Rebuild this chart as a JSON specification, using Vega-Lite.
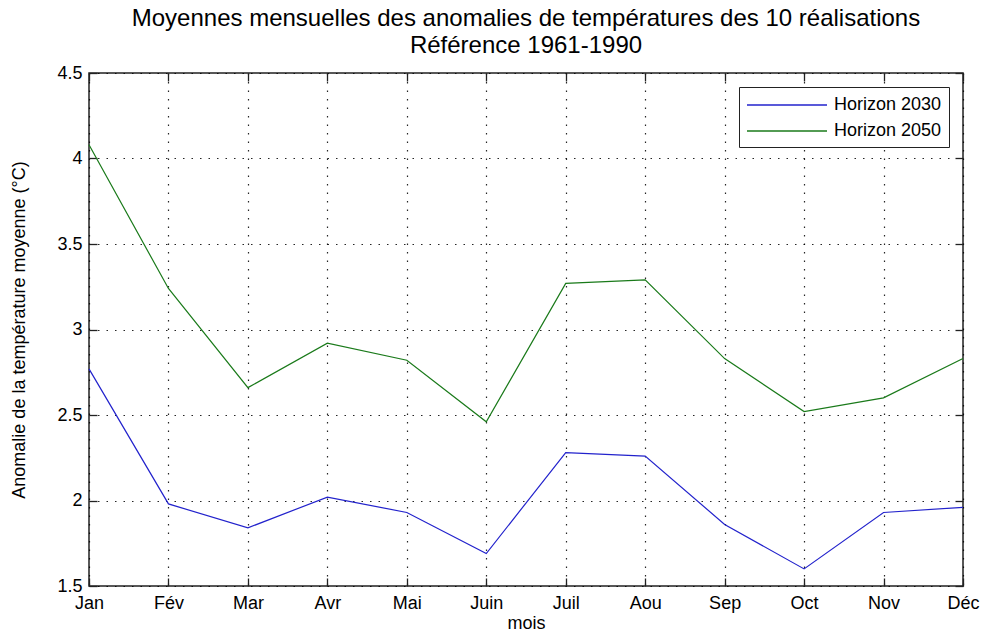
{
  "$schema": "https://vega.github.io/schema/vega-lite/v6.json",
  "width": 874,
  "height": 513,
  "autosize": "none",
  "padding": {"left": 89, "top": 73, "right": 30, "bottom": 49},
  "background": "white",
  "config": {
    "font": "Liberation Sans",
    "view": {"stroke": "#222222", "strokeWidth": 1.5},
    "axis": {
      "labelFont": "Liberation Sans",
      "titleFont": "Liberation Sans",
      "labelFontSize": 18,
      "titleFontSize": 18,
      "titleFontWeight": "normal",
      "labelColor": "black",
      "titleColor": "black",
      "tickColor": "#222222",
      "tickWidth": 1.3,
      "domain": false,
      "gridColor": "black",
      "gridDash": [1.5, 7],
      "gridOpacity": 0.85,
      "gridWidth": 1.2
    }
  },
  "title": {
    "text": ["Moyennes mensuelles des anomalies de températures des 10 réalisations", "Référence 1961-1990"],
    "font": "Liberation Sans",
    "fontSize": 24,
    "fontWeight": "normal",
    "color": "black",
    "lineHeight": 27,
    "offset": 6,
    "anchor": "middle"
  },
  "data": {
    "values": [
      {"mois": "Jan", "serie": "Horizon 2030", "valeur": 2.77},
      {"mois": "Fév", "serie": "Horizon 2030", "valeur": 1.98},
      {"mois": "Mar", "serie": "Horizon 2030", "valeur": 1.84},
      {"mois": "Avr", "serie": "Horizon 2030", "valeur": 2.02},
      {"mois": "Mai", "serie": "Horizon 2030", "valeur": 1.93},
      {"mois": "Juin", "serie": "Horizon 2030", "valeur": 1.69},
      {"mois": "Juil", "serie": "Horizon 2030", "valeur": 2.28},
      {"mois": "Aou", "serie": "Horizon 2030", "valeur": 2.26},
      {"mois": "Sep", "serie": "Horizon 2030", "valeur": 1.86},
      {"mois": "Oct", "serie": "Horizon 2030", "valeur": 1.6},
      {"mois": "Nov", "serie": "Horizon 2030", "valeur": 1.93},
      {"mois": "Déc", "serie": "Horizon 2030", "valeur": 1.96},
      {"mois": "Jan", "serie": "Horizon 2050", "valeur": 4.08},
      {"mois": "Fév", "serie": "Horizon 2050", "valeur": 3.24},
      {"mois": "Mar", "serie": "Horizon 2050", "valeur": 2.66},
      {"mois": "Avr", "serie": "Horizon 2050", "valeur": 2.92},
      {"mois": "Mai", "serie": "Horizon 2050", "valeur": 2.82},
      {"mois": "Juin", "serie": "Horizon 2050", "valeur": 2.46},
      {"mois": "Juil", "serie": "Horizon 2050", "valeur": 3.27},
      {"mois": "Aou", "serie": "Horizon 2050", "valeur": 3.29},
      {"mois": "Sep", "serie": "Horizon 2050", "valeur": 2.83},
      {"mois": "Oct", "serie": "Horizon 2050", "valeur": 2.52},
      {"mois": "Nov", "serie": "Horizon 2050", "valeur": 2.6},
      {"mois": "Déc", "serie": "Horizon 2050", "valeur": 2.83}
    ]
  },
  "layer": [
    {
      "mark": {"type": "line", "strokeWidth": 1.2},
      "encoding": {
        "x": {
          "field": "mois", "type": "ordinal", "sort": null,
          "scale": {"type": "point", "padding": 0},
          "axis": {"labelAngle": 0, "title": "mois", "grid": true, "tickSize": -8, "labelPadding": 16, "titlePadding": 2}
        },
        "y": {
          "field": "valeur", "type": "quantitative",
          "scale": {"domain": [1.5, 4.5], "nice": false, "zero": false},
          "axis": {"values": [1.5, 2, 2.5, 3, 3.5, 4, 4.5], "format": "~g", "title": "Anomalie de la température moyenne (°C)", "grid": true, "tickSize": -8, "labelPadding": 15, "titlePadding": 28}
        },
        "color": {
          "field": "serie", "type": "nominal",
          "scale": {"domain": ["Horizon 2030", "Horizon 2050"], "range": ["#2222cc", "#1a7a1a"]},
          "legend": {
            "orient": "top-right", "offset": 14, "title": null,
            "strokeColor": "#222222", "fillColor": "white", "padding": 7,
            "labelFont": "Liberation Sans", "labelFontSize": 18, "labelColor": "black",
            "symbolType": "M-1,0H7", "symbolSize": 400, "symbolStrokeWidth": 1.5,
            "labelOffset": 66,
            "cornerRadius": 0, "rowPadding": 6
          }
        }
      }
    },
    {
      "mark": {"type": "line", "opacity": 0},
      "encoding": {
        "x": {
          "field": "mois", "type": "ordinal", "sort": null,
          "axis": {"orient": "top", "labels": false, "title": null, "grid": false, "tickSize": -8}
        },
        "y": {
          "field": "valeur", "type": "quantitative",
          "axis": {"orient": "right", "labels": false, "title": null, "grid": false, "tickSize": -8, "values": [1.5, 2, 2.5, 3, 3.5, 4, 4.5]}
        },
        "detail": {"field": "serie"}
      }
    }
  ],
  "resolve": {"axis": {"x": "independent", "y": "independent"}}
}
